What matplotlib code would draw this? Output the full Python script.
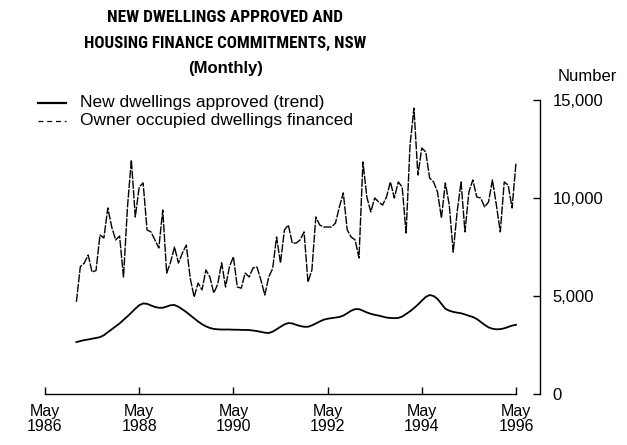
import matplotlib
matplotlib.use("Agg")
import matplotlib.pyplot as plt
from matplotlib.lines import Line2D
from matplotlib import font_manager
import numpy as np

plt.rcParams['font.family'] = ['Liberation Sans', 'DejaVu Sans']

names = sorted({f.name for f in font_manager.fontManager.ttflist})
cands = ['Liberation Sans Narrow', 'Roboto Condensed', 'Open Sans Condensed',
         'DejaVu Sans Condensed', 'Noto Sans Condensed']
narrow = next((c for c in cands if c in names), None)

# months counted from May 1986 (0) to May 1996 (120)
start_month = 8  # January 1987

financed = [
    4700, 6500, 6680, 7090, 6220, 6300, 8110, 7960, 9490, 8520,   # m8-17
    7860, 8060, 5970, 9500, 11940, 9030, 10560, 10770, 8370, 8270,  # m18-27
    7860, 7450, 9390, 6170, 6730, 7500, 6680, 7190, 7600, 5900,   # m28-37
    4950, 5660, 5310, 6330, 5970, 5150, 5600, 6700, 5460, 6500,   # m38-47
    7000, 5460, 5400, 6170, 5970, 6430, 6480, 5820, 5050, 5970,   # m48-57
    6400, 8010, 6680, 8370, 8620, 7700, 7700, 7860, 8270, 5710,   # m58-67
    6330, 9030, 8620, 8520, 8520, 8520, 8720, 9540, 10260, 8370,  # m68-77
    8010, 7860, 6940, 11840, 10050, 9290, 10000, 9800, 9640, 10050,  # m78-87
    10820, 10000, 10820, 10560, 8210, 12700, 14590, 11170, 12550, 12350,  # m88-97
    11020, 10820, 10310, 8980, 10770, 9640, 7240, 9290, 10820, 8270,  # m98-107
    10310, 10920, 10050, 10000, 9540, 9800, 10920, 9640, 8270, 10820,  # m108-117
    10660, 9490, 11790,  # m118-120
]

trend = [
    2650, 2700, 2750, 2780, 2820, 2860, 2900, 3000, 3150, 3300,   # m8-17
    3450, 3600, 3780, 3960, 4150, 4350, 4530, 4620, 4600, 4520,   # m18-27
    4440, 4400, 4400, 4460, 4530, 4540, 4450, 4320, 4180, 4020,   # m28-37
    3860, 3700, 3560, 3450, 3370, 3320, 3300, 3290, 3290, 3290,   # m38-47
    3280, 3280, 3270, 3270, 3260, 3240, 3210, 3170, 3130, 3110,   # m48-57
    3180, 3300, 3430, 3550, 3620, 3600, 3530, 3470, 3430, 3430,   # m58-67
    3500, 3600, 3700, 3790, 3840, 3870, 3900, 3930, 4000, 4120,   # m68-77
    4250, 4330, 4330, 4250, 4160, 4090, 4040, 4000, 3950, 3900,   # m78-87
    3880, 3870, 3880, 3950, 4080, 4220, 4380, 4560, 4760, 4950,   # m88-97
    5050, 5000, 4850, 4600, 4350, 4250, 4190, 4150, 4120, 4060,   # m98-107
    3990, 3930, 3830, 3680, 3530, 3400, 3330, 3300, 3310, 3350,   # m108-117
    3420, 3490, 3530,  # m118-120
]

xtick_months = [0, 24, 48, 72, 96, 120]
xtick_labels = ["May\n1986", "May\n1988", "May\n1990", "May\n1992", "May\n1994", "May\n1996"]
ytick_values = [0, 5000, 10000, 15000]
ytick_labels = ["0", "5,000", "10,000", "15,000"]

W, H = 627, 445
fig = plt.figure(figsize=(W / 100, H / 100), dpi=100)
ax_left, ax_right = 45 / W, 540 / W
ax_bottom, ax_top = 1 - 394 / H, 1 - 100 / H
ax = fig.add_axes([ax_left, ax_bottom, ax_right - ax_left, ax_top - ax_bottom])

m_fin = np.arange(start_month, start_month + len(financed))
m_tr = np.arange(start_month, start_month + len(trend))

ax.plot(m_fin, financed, color='black', lw=1.0, linestyle=(0, (6, 1)))
ax.plot(m_tr, trend, color='black', lw=1.3, solid_joinstyle='round')

ax.set_xlim(0, (540 - 45) / 3.925)
ax.set_ylim(0, 15000)

for s in ['left', 'top']:
    ax.spines[s].set_visible(False)
ax.spines['bottom'].set_bounds(0, 120)
ax.spines['right'].set_bounds(0, 15000)
ax.spines['bottom'].set_linewidth(1.0)
ax.spines['right'].set_linewidth(1.0)

ax.yaxis.tick_right()
ax.set_yticks(ytick_values)
ax.set_yticklabels(ytick_labels, fontsize=12)
ax.tick_params(axis='y', direction='in', length=5, width=1.0, pad=9)

ax.set_xticks(xtick_months)
ax.set_xticklabels(xtick_labels, fontsize=11.5, linespacing=1.05)
ax.tick_params(axis='x', direction='in', length=5, width=1.0, pad=7)

title_family = [narrow, 'Liberation Sans', 'DejaVu Sans'] if narrow else ['Liberation Sans', 'DejaVu Sans']
title_size = 12.5 if narrow else 10.5
t1 = fig.text(225 / W, 1 - 18 / H, "NEW DWELLINGS APPROVED AND", ha='center', va='center',
              fontsize=title_size, fontweight='bold', family=title_family)
t2 = fig.text(225 / W, 1 - 43 / H, "HOUSING FINANCE COMMITMENTS, NSW", ha='center', va='center',
              fontsize=title_size, fontweight='bold', family=title_family)
fig.text(226 / W, 1 - 68 / H, "(Monthly)", ha='center', va='center',
         fontsize=12, fontweight='bold')
fig.text(587 / W, 1 - 77 / H, "Number", ha='center', va='center', fontsize=12)

# shrink title lines to the reference width if the chosen font is too wide
fig.canvas.draw()
r = fig.canvas.get_renderer()
for t, target in ((t1, 246), (t2, 281)):
    w = t.get_window_extent(r).width
    if w > target * 1.03:
        t.set_fontsize(t.get_fontsize() * target / w)

# legend
fig.add_artist(Line2D([38 / W, 66 / W], [1 - 103 / H, 1 - 103 / H], color='black', lw=1.6))
fig.add_artist(Line2D([38 / W, 66 / W], [1 - 121 / H, 1 - 121 / H], color='black', lw=0.9,
                      linestyle=(0, (4, 3))))
fig.text(80 / W, 1 - 103 / H, "New dwellings approved (trend)", ha='left', va='center', fontsize=12.5)
fig.text(80 / W, 1 - 121 / H, "Owner occupied dwellings financed", ha='left', va='center', fontsize=12.5)

fig.savefig("out.png", dpi=100)
